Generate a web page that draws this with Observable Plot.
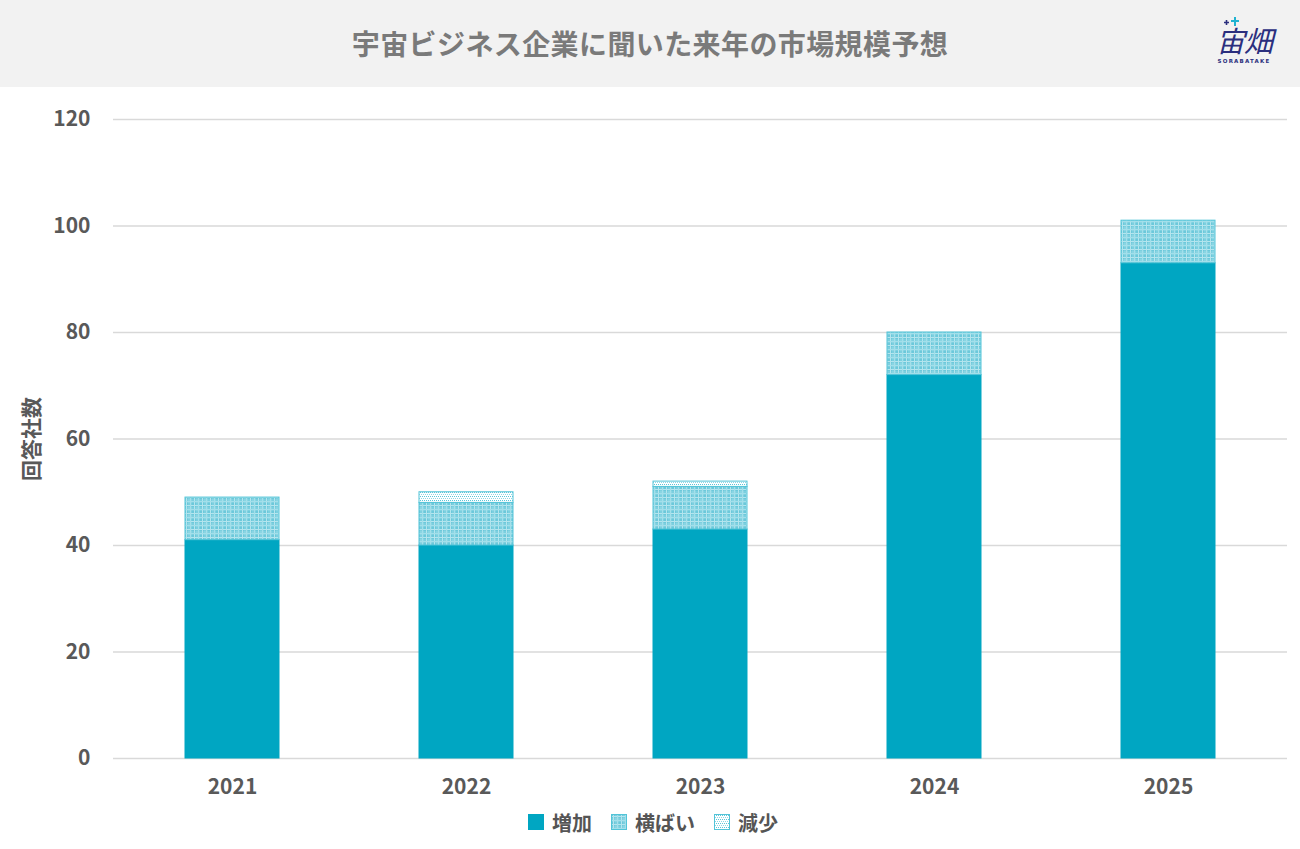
<!DOCTYPE html>
<html lang="ja">
<head>
<meta charset="utf-8">
<script src="https://cdn.jsdelivr.net/npm/d3@7"></script>
<script src="https://cdn.jsdelivr.net/npm/@observablehq/plot@0.6"></script>
<style>
  html, body { margin: 0; padding: 0; background: #fff; }
  body { width: 1300px; height: 849px; overflow: hidden; font-family: "Noto Sans CJK JP", "Noto Sans", sans-serif; }
  #header { position: relative; height: 87px; background: #f2f2f2; }
  #title { position: absolute; left: 0; right: 0; top: 25px; text-align: center; font-size: 28px; line-height: 36px; font-weight: 700; color: #7a7a7a; letter-spacing: 0.4px; }
  #logo-plus { position: absolute; left: 1222px; top: 16px; }
  #logo-main { position: absolute; left: 1212px; top: 23px; width: 64px; text-align: center; font-size: 29px; line-height: 32px; font-weight: 400; font-style: italic; color: #2b2f7e; letter-spacing: -1px; }
  #logo-sub { position: absolute; left: 1212px; top: 58px; width: 64px; text-align: center; font-size: 5.5px; line-height: 7px; font-weight: 700; color: #2b2f7e; letter-spacing: 1.2px; font-family: "DejaVu Sans", sans-serif; }
  #chart { position: relative; }
  #legend { display: flex; justify-content: center; align-items: center; gap: 19px; height: 30px; font-size: 20px; font-weight: 700; color: #555; padding-left: 6px; }
  #legend .item { display: flex; align-items: center; gap: 8px; }
  #legend svg { display: block; }
</style>
</head>
<body>
<svg width="0" height="0" style="position:absolute">
  <defs>
    <pattern id="patFlat" width="8" height="8" patternUnits="userSpaceOnUse">
      <rect width="8" height="8" fill="#7ccfdf"/>
      <rect x="0" y="0" width="4" height="4" fill="#6cc8da"/>
      <rect x="4" y="4" width="4" height="4" fill="#8ad5e3"/>
      <rect x="2" y="0" width="1" height="8" fill="#b4e5ee"/>
      <rect x="0" y="2" width="8" height="1" fill="#b4e5ee"/>
      <rect x="6" y="0" width="1" height="8" fill="#a3dfea"/>
      <rect x="0" y="6" width="8" height="1" fill="#a3dfea"/>
    </pattern>
    <pattern id="patDown" width="4" height="4" patternUnits="userSpaceOnUse">
      <rect width="4" height="4" fill="#ffffff"/>
      <rect x="0" y="1" width="1" height="1" fill="#5cc6d9"/>
      <rect x="2" y="1" width="1" height="1" fill="#5cc6d9"/>
      <rect x="1" y="3" width="1" height="1" fill="#8fd8e5"/>
      <rect x="3" y="3" width="1" height="1" fill="#8fd8e5"/>
    </pattern>
  </defs>
</svg>

<div id="header">
  <div id="title">宇宙ビジネス企業に聞いた来年の市場規模予想</div>
  <svg id="logo-plus" width="20" height="12" viewBox="0 0 20 12">
    <path d="M2 6.5H7M4.5 4V9" stroke="#2b2f7e" stroke-width="1.6" fill="none"/>
    <path d="M9 5H17M13 1V10" stroke="#1fb3d1" stroke-width="2" fill="none"/>
  </svg>
  <div id="logo-main">宙畑</div>
  <div id="logo-sub">SORABATAKE</div>
</div>
<div id="chart"></div>
<div id="legend"></div>

<script>
// ---- data ----
const years = ["2021", "2022", "2023", "2024", "2025"];
const categories = ["増加", "横ばい", "減少"];
const increase = [41, 40, 43, 72, 93];
const flat = [8, 8, 8, 8, 8];
const decrease = [0, 2, 1, 0, 0];
const yTicks = [0, 20, 40, 60, 80, 100, 120];

const fills = ["#00a6c2", "url(#patFlat)", "url(#patDown)"];

const rows = [];
years.forEach((y, i) => {
  rows.push({year: y, category: categories[0], value: increase[i]});
  rows.push({year: y, category: categories[1], value: flat[i]});
  rows.push({year: y, category: categories[2], value: decrease[i]});
});

const chart = Plot.plot({
  width: 1300,
  height: 720,
  marginTop: 32,
  marginBottom: 49,
  marginLeft: 113,
  marginRight: 13,
  style: {fontFamily: "'Noto Sans CJK JP', 'Noto Sans', sans-serif", fontSize: "21px", fontWeight: 700, color: "#595959", background: "transparent"},
  x: {domain: years, paddingInner: 0.6, paddingOuter: 0.3, label: null, tickSize: 0, tickPadding: 21},
  y: {domain: [0, 120], ticks: yTicks, label: null, tickSize: 0, tickPadding: 23, grid: false},
  color: {domain: categories, range: fills},
  marks: [
    Plot.ruleY(yTicks, {stroke: "#d9d9d9", strokeWidth: 1.5, strokeOpacity: 1}),
    Plot.barY(rows.filter(d => d.value > 0), Plot.stackY({
      x: "year",
      y: "value",
      fill: "category",
      order: categories,
      stroke: d => d.category === "増加" ? "#00a6c2" : "#52c4d8",
      strokeWidth: 1,
      inset: 0
    })),
    Plot.text(["回答社数"], {frameAnchor: "left", textAnchor: "middle", text: d => d, rotate: -90, dx: -81, fontSize: 21, fontWeight: 700, fill: "#595959"})
  ]
});
document.getElementById("chart").appendChild(chart);

// legend
const legend = d3.select("#legend");
categories.forEach((c, i) => {
  const item = legend.append("div").attr("class", "item");
  const s = item.append("svg").attr("width", 16).attr("height", 16);
  s.append("rect").attr("x", 0.5).attr("y", 0.5).attr("width", 15).attr("height", 15)
    .attr("fill", fills[i]).attr("stroke", i === 0 ? "#00a6c2" : "#52c4d8").attr("stroke-width", 1);
  item.append("span").text(c);
});
</script>
</body>
</html>
